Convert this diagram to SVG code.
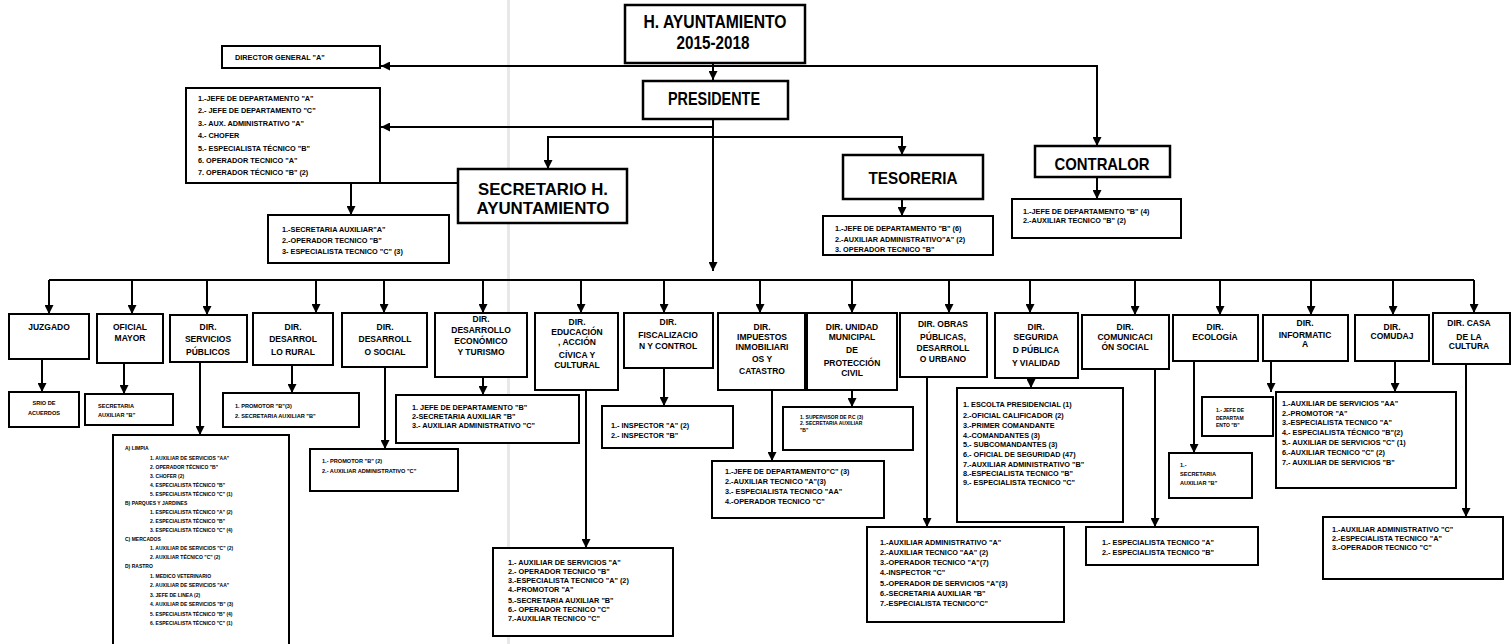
<svg xmlns="http://www.w3.org/2000/svg" width="1512" height="644" viewBox="0 0 1512 644">
<defs>
<marker id="a" viewBox="0 0 10 10" refX="10" refY="5" markerWidth="9" markerHeight="9" markerUnits="userSpaceOnUse" orient="auto"><path d="M0,0L10,5L0,10z" fill="#000"/></marker>
<style>
.b{fill:#fff;stroke:#000;stroke-width:2}
.bb{fill:#fff;stroke:#000;stroke-width:2.5}
.t{font-family:"Liberation Sans",Arial,sans-serif;font-weight:bold;fill:#000}
.h{font-size:18px;text-anchor:middle}
.l{font-size:8.5px;text-anchor:middle}
.s{font-size:7.3px}
.xs{font-size:5.6px}
.xxs{font-size:5px}
.c{fill:none;stroke:#000;stroke-width:2;marker-end:url(#a)}
.p{fill:none;stroke:#000;stroke-width:2}
</style>
</defs>
<rect width="1512" height="644" fill="#fff"/>
<rect x="507" y="0" width="3" height="644" fill="#e8e8e8"/>

<g id="connectors">
<path class="c" d="M713,63V80"/>
<path class="c" d="M713,66H381"/>
<path class="c" d="M713,66H1097V146"/>
<path class="c" d="M713,119V271"/>
<path class="c" d="M713,127H381"/>
<path class="c" d="M713,137H548V169"/>
<path class="c" d="M713,137H902V155"/>
<path class="c" d="M458,183H351V215"/>
<path class="c" d="M1097,177V199"/>
<path class="c" d="M902,199V216"/>
<path class="p" d="M49,280H1474"/>
<path class="c" d="M49,280V314"/>
<path class="c" d="M132,280V314"/>
<path class="c" d="M207,280V315"/>
<path class="c" d="M316,280V313"/>
<path class="c" d="M384,280V313"/>
<path class="c" d="M483,280V313"/>
<path class="c" d="M581,280V313"/>
<path class="c" d="M664,280V313"/>
<path class="c" d="M760,280V313"/>
<path class="c" d="M852,280V313"/>
<path class="c" d="M949,280V313"/>
<path class="c" d="M1030,280V313"/>
<path class="c" d="M1135,280V315"/>
<path class="c" d="M1220,280V315"/>
<path class="c" d="M1311,280V315"/>
<path class="c" d="M1393,280V315"/>
<path class="c" d="M1474,280V313"/>
<path class="c" d="M42,359V392"/>
<path class="c" d="M124,363V394"/>
<path class="c" d="M200,362V435"/>
<path class="c" d="M292,365V393"/>
<path class="c" d="M385,367V449"/>
<path class="c" d="M483,377V395"/>
<path class="c" d="M586,390V548"/>
<path class="c" d="M664,368V406"/>
<path class="c" d="M772,390V461"/>
<path class="c" d="M852,390V407"/>
<path class="c" d="M927,377V527"/>
<path class="c" d="M1031,378V388"/>
<path class="c" d="M1155,369V527"/>
<path class="c" d="M1194,361V453"/>
<path class="c" d="M1271,361V392"/>
<path class="c" d="M1395,361V392"/>
<path class="c" d="M1466,364V517"/>
</g>

<g id="n-ayuntamiento"><rect class="bb" x="625" y="5" width="180" height="58"/>
<text class="t h" x="715" y="28" textLength="143" lengthAdjust="spacingAndGlyphs">H. AYUNTAMIENTO</text>
<text class="t h" x="713" y="49" textLength="73" lengthAdjust="spacingAndGlyphs">2015-2018</text></g>

<g id="n-director"><rect class="b" x="222" y="46" width="158" height="22"/>
<text class="t s" x="235" y="60">DIRECTOR GENERAL "A"</text></g>

<g id="n-presidente"><rect class="bb" x="643" y="81" width="145" height="38"/>
<text class="t h" x="714" y="105" textLength="92" lengthAdjust="spacingAndGlyphs">PRESIDENTE</text></g>

<g id="n-staff-presidente"><rect class="b" x="186" y="88" width="194" height="95"/>
<text class="t s" x="198" y="101">1.-JEFE DE DEPARTAMENTO "A"</text>
<text class="t s" x="198" y="113">2.- JEFE DE DEPARTAMENTO  "C"</text>
<text class="t s" x="198" y="126">3.- AUX. ADMINISTRATIVO "A"</text>
<text class="t s" x="198" y="138">4.- CHOFER</text>
<text class="t s" x="198" y="151">5.- ESPECIALISTA TÉCNICO "B"</text>
<text class="t s" x="198" y="163">6. OPERADOR TECNICO "A"</text>
<text class="t s" x="198" y="175">7. OPERADOR TÉCNICO "B" (2)</text></g>

<g id="n-secretario"><rect class="bb" x="458" y="169" width="169" height="54"/>
<text class="t h" x="543" y="195" style="font-size:16.5px" textLength="130" lengthAdjust="spacingAndGlyphs">SECRETARIO H.</text>
<text class="t h" x="543" y="214" style="font-size:16.5px" textLength="133" lengthAdjust="spacingAndGlyphs">AYUNTAMIENTO</text></g>

<g id="n-staff-secretario"><rect class="b" x="268" y="215" width="181" height="48"/>
<text class="t s" x="282" y="232">1.-SECRETARIA AUXILIAR"A"</text>
<text class="t s" x="282" y="243">2.-OPERADOR TECNICO "B"</text>
<text class="t s" x="282" y="254">3- ESPECIALISTA TECNICO "C" (3)</text></g>

<g id="n-tesoreria"><rect class="bb" x="843" y="155" width="140" height="44"/>
<text class="t h" x="913" y="184" style="font-size:17px" textLength="89" lengthAdjust="spacingAndGlyphs">TESORERIA</text></g>

<g id="n-staff-tesoreria"><rect class="b" x="823" y="216" width="170" height="39"/>
<text class="t s" x="835" y="231">1.-JEFE DE DEPARTAMENTO "B" (6)</text>
<text class="t s" x="835" y="242">2.-AUXILIAR ADMINISTRATIVO"A" (2)</text>
<text class="t s" x="835" y="252">3. OPERADOR TECNICO "B"</text></g>

<g id="n-contralor"><rect class="bb" x="1035" y="146" width="135" height="31"/>
<text class="t h" x="1102" y="170" style="font-size:17px" textLength="95" lengthAdjust="spacingAndGlyphs">CONTRALOR</text></g>

<g id="n-staff-contralor"><rect class="b" x="1012" y="199" width="169" height="39"/>
<text class="t s" x="1023" y="214">1.-JEFE DE DEPARTAMENTO "B" (4)</text>
<text class="t s" x="1023" y="223">2.-AUXILIAR TECNICO "B" (2)</text></g>

<g id="n-juzgado"><rect class="b" x="9" y="314" width="80" height="45"/>
<text class="t l" x="49" y="330">JUZGADO</text></g>
<g id="n-srio"><rect class="b" x="9" y="392" width="70" height="35"/>
<text class="t xs" x="44" y="405" text-anchor="middle">SRIO DE</text>
<text class="t xs" x="44" y="415" text-anchor="middle">ACUERDOS</text></g>

<g id="n-oficial"><rect class="b" x="97" y="314" width="66" height="49"/>
<text class="t l" x="130" y="330">OFICIAL</text>
<text class="t l" x="130" y="341">MAYOR</text></g>
<g id="n-oficial-list"><rect class="b" x="85" y="394" width="88" height="31"/>
<text class="t xs" x="98" y="408">SECRETARIA</text>
<text class="t xs" x="98" y="417">AUXILIAR "B"</text></g>

<g id="n-servicios"><rect class="b" x="170" y="315" width="77" height="47"/>
<text class="t l" x="208" y="330">DIR.</text>
<text class="t l" x="208" y="342">SERVICIOS</text>
<text class="t l" x="208" y="355">PÚBLICOS</text></g>
<g id="n-servicios-list"><rect class="b" x="113" y="435" width="176" height="215"/>
<text class="t xxs" x="125" y="450">A) LIMPIA</text>
<text class="t xxs" x="150" y="460">1. AUXILIAR DE SERVICIOS "AA"</text>
<text class="t xxs" x="150" y="469">2. OPERADOR TÉCNICO "B"</text>
<text class="t xxs" x="150" y="478">3. CHOFER (2)</text>
<text class="t xxs" x="150" y="487">4. ESPECIALISTA TÉCNICO "B"</text>
<text class="t xxs" x="150" y="496">5. ESPECIALISTA TÉCNICO "C" (1)</text>
<text class="t xxs" x="125" y="505">B) PARQUES Y JARDINES</text>
<text class="t xxs" x="150" y="514">1. ESPECIALISTA TÉCNICO "A" (2)</text>
<text class="t xxs" x="150" y="523">2. ESPECIALISTA TÉCNICO "B"</text>
<text class="t xxs" x="150" y="532">3. ESPECIALISTA TÉCNICO "C" (4)</text>
<text class="t xxs" x="125" y="541">C) MERCADOS</text>
<text class="t xxs" x="150" y="550">1. AUXILIAR DE SERVICIOS "C" (2)</text>
<text class="t xxs" x="150" y="559">2. AUXILIAR TÉCNICO "C" (2)</text>
<text class="t xxs" x="125" y="568">D) RASTRO</text>
<text class="t xxs" x="150" y="578">1. MEDICO VETERINARIO</text>
<text class="t xxs" x="150" y="587">2. AUXILIAR DE SERVICIOS "AA"</text>
<text class="t xxs" x="150" y="597">3. JEFE DE LINEA (2)</text>
<text class="t xxs" x="150" y="606">4. AUXILIAR DE SERVICIOS "B" (3)</text>
<text class="t xxs" x="150" y="616">5. ESPECIALISTA TÉCNICO "B" (4)</text>
<text class="t xxs" x="150" y="625">6. ESPECIALISTA TÉCNICO "C" (1)</text></g>

<g id="n-rural"><rect class="b" x="253" y="313" width="80" height="52"/>
<text class="t l" x="293" y="330">DIR.</text>
<text class="t l" x="293" y="342">DESARROL</text>
<text class="t l" x="293" y="355">LO RURAL</text></g>
<g id="n-rural-list"><rect class="b" x="223" y="393" width="136" height="34"/>
<text class="t xs" x="235" y="408">1. PROMOTOR "B"(3)</text>
<text class="t xs" x="235" y="418">2. SECRETARIA AUXILIAR "B"</text></g>

<g id="n-social"><rect class="b" x="342" y="313" width="85" height="54"/>
<text class="t l" x="385" y="330">DIR.</text>
<text class="t l" x="385" y="342">DESARROLL</text>
<text class="t l" x="385" y="355">O SOCIAL</text></g>
<g id="n-social-list"><rect class="b" x="310" y="449" width="148" height="42"/>
<text class="t xs" x="322" y="463">1.- PROMOTOR "B" (2)</text>
<text class="t xs" x="322" y="473">2.- AUXILIAR ADMINISTRATIVO "C"</text></g>

<g id="n-economico"><rect class="b" x="435" y="313" width="92" height="64"/>
<text class="t l" x="481" y="322">DIR.</text>
<text class="t l" x="481" y="333">DESARROLLO</text>
<text class="t l" x="481" y="344">ECONÓMICO</text>
<text class="t l" x="481" y="355">Y TURISMO</text></g>
<g id="n-economico-list"><rect class="b" x="396" y="395" width="183" height="48"/>
<text class="t s" x="412" y="410">1. JEFE DE DEPARTAMENTO "B"</text>
<text class="t s" x="412" y="419">2-SECRETARIA AUXILIAR  "B"</text>
<text class="t s" x="412" y="428">3.- AUXILIAR ADMINISTRATIVO "C"</text></g>

<g id="n-educacion"><rect class="b" x="535" y="313" width="83" height="77"/>
<text class="t l" x="577" y="325">DIR.</text>
<text class="t l" x="577" y="335">EDUCACIÓN</text>
<text class="t l" x="577" y="345">, ACCIÓN</text>
<text class="t l" x="577" y="358">CÍVICA Y</text>
<text class="t l" x="577" y="368">CULTURAL</text></g>
<g id="n-educacion-list"><rect class="b" x="493" y="548" width="180" height="88"/>
<text class="t s" x="508" y="565">1.- AUXILIAR DE SERVICIOS "A"</text>
<text class="t s" x="508" y="574">2.- OPERADOR TECNICO "B"</text>
<text class="t s" x="508" y="583">3.-ESPECIALISTA TECNICO "A" (2)</text>
<text class="t s" x="508" y="592">4.-PROMOTOR "A"</text>
<text class="t s" x="508" y="603">5.-SECRETARIA AUXILIAR "B"</text>
<text class="t s" x="508" y="612">6.- OPERADOR TECNICO "C"</text>
<text class="t s" x="508" y="621">7.-AUXILIAR TECNICO "C"</text></g>

<g id="n-fiscalizacion"><rect class="b" x="624" y="313" width="89" height="55"/>
<text class="t l" x="668" y="325">DIR.</text>
<text class="t l" x="668" y="338">FISCALIZACIO</text>
<text class="t l" x="668" y="349">N Y CONTROL</text></g>
<g id="n-fiscalizacion-list"><rect class="b" x="602" y="406" width="131" height="42"/>
<text class="t s" x="611" y="428">1.- INSPECTOR "A" (2)</text>
<text class="t s" x="611" y="438">2.- INSPECTOR "B"</text></g>

<g id="n-impuestos"><rect class="b" x="718" y="313" width="87" height="77"/>
<text class="t l" x="762" y="330">DIR.</text>
<text class="t l" x="762" y="340">IMPUESTOS</text>
<text class="t l" x="762" y="350">INMOBILIARI</text>
<text class="t l" x="762" y="362">OS Y</text>
<text class="t l" x="762" y="374">CATASTRO</text></g>
<g id="n-impuestos-list"><rect class="b" x="712" y="461" width="172" height="57"/>
<text class="t s" x="725" y="474">1.-JEFE DE DEPARTAMENTO"C" (3)</text>
<text class="t s" x="725" y="484">2.-AUXILIAR TECNICO "A"(3)</text>
<text class="t s" x="725" y="494">3.- ESPECIALISTA TECNICO "AA"</text>
<text class="t s" x="725" y="504">4.-OPERADOR TECNICO "C"</text></g>

<g id="n-proteccion"><rect class="b" x="807" y="313" width="90" height="77"/>
<text class="t l" x="852" y="330">DIR. UNIDAD</text>
<text class="t l" x="852" y="340">MUNICIPAL</text>
<text class="t l" x="852" y="353">DE</text>
<text class="t l" x="852" y="366">PROTECCIÓN</text>
<text class="t l" x="852" y="376">CIVIL</text></g>
<g id="n-proteccion-list"><rect class="b" x="783" y="407" width="130" height="43"/>
<text class="t xxs" x="800" y="419">1. SUPERVISOR DE P.C (3)</text>
<text class="t xxs" x="800" y="425">2. SECRETARIA AUXILIAR</text>
<text class="t xxs" x="800" y="432">"B"</text></g>

<g id="n-obras"><rect class="b" x="900" y="313" width="87" height="64"/>
<text class="t l" x="943" y="327">DIR. OBRAS</text>
<text class="t l" x="943" y="340">PÚBLICAS,</text>
<text class="t l" x="943" y="351">DESARROLL</text>
<text class="t l" x="943" y="362">O URBANO</text></g>
<g id="n-obras-list"><rect class="b" x="867" y="527" width="197" height="95"/>
<text class="t s" x="880" y="545">1.-AUXILIAR ADMINISTRATIVO "A"</text>
<text class="t s" x="880" y="555">2.-AUXILIAR TECNICO "AA" (2)</text>
<text class="t s" x="880" y="565">3.-OPERADOR TECNICO "A"(7)</text>
<text class="t s" x="880" y="575">4.-INSPECTOR "C"</text>
<text class="t s" x="880" y="586">5.-OPERADOR DE SERVICIOS "A"(3)</text>
<text class="t s" x="880" y="596">6.-SECRETARIA AUXILIAR "B"</text>
<text class="t s" x="880" y="606">7.-ESPECIALISTA TECNICO"C"</text></g>

<g id="n-seguridad"><rect class="b" x="995" y="313" width="83" height="65"/>
<text class="t l" x="1036" y="330">DIR.</text>
<text class="t l" x="1036" y="340">SEGURIDA</text>
<text class="t l" x="1036" y="353">D PÚBLICA</text>
<text class="t l" x="1036" y="366">Y VIALIDAD</text></g>
<g id="n-seguridad-list"><rect class="b" x="957" y="388" width="166" height="134"/>
<text class="t s" x="963" y="407">1. ESCOLTA PRESIDENCIAL (1)</text>
<text class="t s" x="963" y="418">2.-OFICIAL CALIFICADOR (2)</text>
<text class="t s" x="963" y="428">3.-PRIMER COMANDANTE</text>
<text class="t s" x="963" y="438">4.-COMANDANTES (3)</text>
<text class="t s" x="963" y="447">5.- SUBCOMANDANTES (3)</text>
<text class="t s" x="963" y="457">6.- OFICIAL DE SEGURIDAD (47)</text>
<text class="t s" x="963" y="467">7.-AUXILIAR ADMINISTRATIVO "B"</text>
<text class="t s" x="963" y="476">8.-ESPECIALISTA TECNICO "B"</text>
<text class="t s" x="963" y="485">9.- ESPECIALISTA TECNICO "C"</text></g>

<g id="n-comunicacion"><rect class="b" x="1082" y="315" width="87" height="54"/>
<text class="t l" x="1125" y="330">DIR.</text>
<text class="t l" x="1125" y="340">COMUNICACI</text>
<text class="t l" x="1125" y="350">ÓN SOCIAL</text></g>
<g id="n-comunicacion-list"><rect class="b" x="1086" y="527" width="172" height="38"/>
<text class="t s" x="1102" y="545">1.- ESPECIALISTA TECNICO "A"</text>
<text class="t s" x="1102" y="555">2.- ESPECIALISTA TECNICO "B"</text></g>

<g id="n-ecologia"><rect class="b" x="1173" y="315" width="85" height="46"/>
<text class="t l" x="1215" y="330">DIR.</text>
<text class="t l" x="1215" y="340">ECOLOGÍA</text></g>
<g id="n-ecologia-list"><rect class="b" x="1169" y="453" width="83" height="45"/>
<text class="t xs" x="1180" y="467">1.-</text>
<text class="t xs" x="1180" y="476">SECRETARIA</text>
<text class="t xs" x="1180" y="485">AUXILIAR "B"</text></g>

<g id="n-informatica"><rect class="b" x="1263" y="315" width="85" height="46"/>
<text class="t l" x="1305" y="326">DIR.</text>
<text class="t l" x="1305" y="338">INFORMATIC</text>
<text class="t l" x="1305" y="347">A</text></g>
<g id="n-informatica-list"><rect class="b" x="1202" y="397" width="71" height="39"/>
<text class="t xxs" x="1216" y="412">1.- JEFE DE</text>
<text class="t xxs" x="1216" y="420">DEPARTAM</text>
<text class="t xxs" x="1216" y="427">ENTO "B"</text></g>

<g id="n-comudaj"><rect class="b" x="1355" y="315" width="74" height="46"/>
<text class="t l" x="1392" y="330">DIR.</text>
<text class="t l" x="1392" y="339">COMUDAJ</text></g>
<g id="n-comudaj-list"><rect class="b" x="1276" y="392" width="180" height="96"/>
<text class="t s" x="1282" y="406">1.-AUXILIAR DE SERVICIOS "AA"</text>
<text class="t s" x="1282" y="416">2.-PROMOTOR "A"</text>
<text class="t s" x="1282" y="425">3.-ESPECIALISTA TECNICO "A"</text>
<text class="t s" x="1282" y="435">4.- ESPECIALISTA TÉCNICO "B"(2)</text>
<text class="t s" x="1282" y="445">5.- AUXILIAR DE SERVICIOS "C" (1)</text>
<text class="t s" x="1282" y="455">6.-AUXILIAR TECNICO "C" (2)</text>
<text class="t s" x="1282" y="465">7.- AUXILIAR DE SERVICIOS "B"</text></g>

<g id="n-cultura"><rect class="b" x="1433" y="313" width="77" height="51"/>
<text class="t l" x="1469" y="326">DIR. CASA</text>
<text class="t l" x="1469" y="340">DE LA</text>
<text class="t l" x="1469" y="349">CULTURA</text></g>
<g id="n-cultura-list"><rect class="b" x="1323" y="517" width="180" height="62"/>
<text class="t s" x="1332" y="532">1.-AUXILIAR ADMINISTRATIVO "C"</text>
<text class="t s" x="1332" y="541">2.-ESPECIALISTA TECNICO "A"</text>
<text class="t s" x="1332" y="550">3.-OPERADOR TECNICO "C"</text></g>
</svg>
